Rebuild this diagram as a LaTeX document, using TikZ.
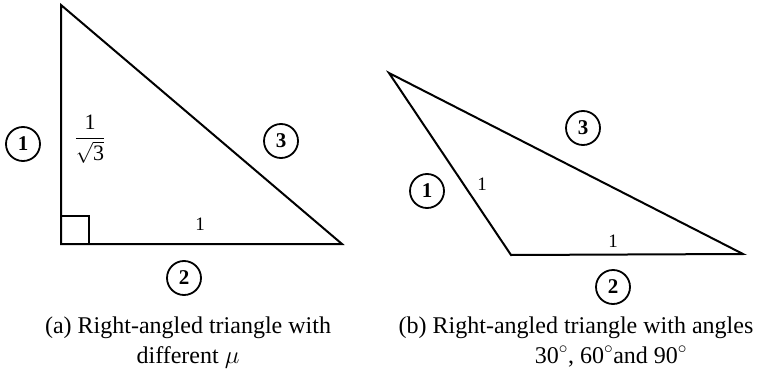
\documentclass[tikz,border=0pt]{standalone}
\usepackage{amsmath}
\usepackage{fontspec}
\setmainfont{Liberation Serif}
\usetikzlibrary{positioning}
\tikzset{
edge_line/.style={line width=2pt, line join=miter},
right_mark/.style={line width=1.8pt},
circled_num/.style={circle, draw, line width=1.8pt, minimum size=34pt, inner sep=0pt, font=\fontsize{21}{21}\selectfont\bfseries},
side_label/.style={inner sep=0pt, font=\fontsize{19}{19}\selectfont},
caption_text/.style={anchor=base, inner sep=0pt, font=\fontsize{24}{24}\selectfont}
}

\begin{document}
\begin{tikzpicture}[x=1pt, y=-1pt]
    \useasboundingbox (0,0) rectangle (759,377);
    % (a) triangle with the right angle at the bottom left
    \coordinate (top_a) at (61,5);
    \coordinate (corner_a) at (61,244);
    \coordinate (right_a) at (342,244);
    \draw[edge_line] (top_a) -- (corner_a) -- (right_a) -- cycle;
    \draw[right_mark] (corner_a) rectangle ++(28,-28);
    \node[circled_num] (one_a) at (23,144) {1};
    \node[circled_num] (two_a) at (184,278) {2};
    \node[circled_num] (three_a) at (281,141) {3};
    \node[side_label, font=\fontsize{22}{22}\selectfont] (frac_a) at (90,139) {$\dfrac{\text{1}}{\sqrt{\text{3}}}$};
    \node[side_label] (base_a) at (200,224) {1};
    \node[caption_text] (cap_a) at (188,333) {(a) Right-angled triangle with};
    \node[caption_text] (cap2_a) at (188,363) {different $\mu$};
    % (b) triangle with angles 30, 60, 90
    \coordinate (top_b) at (389,73);
    \coordinate (left_b) at (511,255);
    \coordinate (right_b) at (743,254);
    \draw[edge_line] (top_b) -- (left_b) -- (right_b) -- cycle;
    \node[circled_num] (one_b) at (427,191) {1};
    \node[circled_num] (two_b) at (613,287) {2};
    \node[circled_num] (three_b) at (583,128) {3};
    \node[side_label] (side_b) at (482,184) {1};
    \node[side_label] (base_b) at (613,241) {1};
    \node[caption_text] (cap_b) at (576,333) {(b) Right-angled triangle with angles};
    \node[caption_text] (cap2_b) at (611,363) {30$^\circ$, 60$^\circ$and 90$^\circ$};
\end{tikzpicture}
\end{document}
